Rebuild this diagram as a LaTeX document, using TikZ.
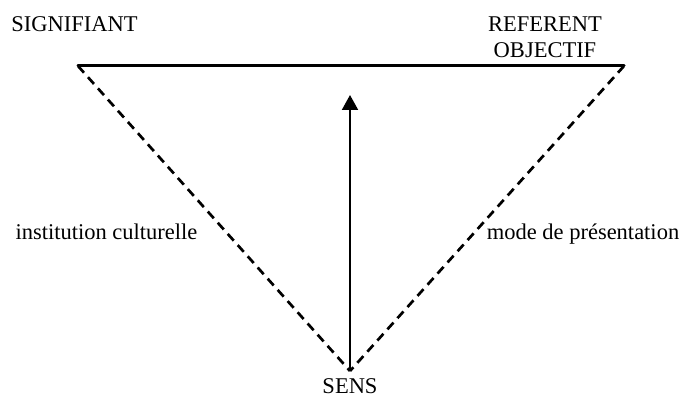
\documentclass[tikz,border=0pt]{standalone}
\usepackage{fontspec}
\setmainfont{Liberation Serif}
\usetikzlibrary{arrows.meta}
\begin{document}
\begin{tikzpicture}[x=1pt,y=-1pt,
  lbl/.style={font=\fontsize{22.5}{26}\selectfont, inner sep=0pt, anchor=base},
  solidedge/.style={line width=3pt, line cap=round},
  dashedge/.style={line width=2.7pt, dash pattern=on 9pt off 6pt},
  sensarrow/.style={line width=2pt, -{Triangle[length=15pt,width=16pt]}}]
\useasboundingbox (0,0) rectangle (683,398);
\coordinate (sig) at (78,66);
\coordinate (ref) at (624,66);
\coordinate (sens) at (350,371);
\coordinate (tip) at (350,95);
\draw[solidedge] (sig) -- (ref);
\draw[dashedge] (sig) -- (sens);
\draw[dashedge] (ref) -- (sens);
\draw[sensarrow] (sens) -- (tip);
\node[lbl] (tsig) at (74.5,32) {SIGNIFIANT};
\node[lbl, align=center] (tref) at (545,58) {REFERENT\\OBJECTIF};
\node[lbl] (tinst) at (106.5,240) {institution culturelle};
\node[lbl] (tmode) at (583,240) {mode de présentation};
\node[lbl] (tsens) at (350,393) {SENS};
\end{tikzpicture}
\end{document}
